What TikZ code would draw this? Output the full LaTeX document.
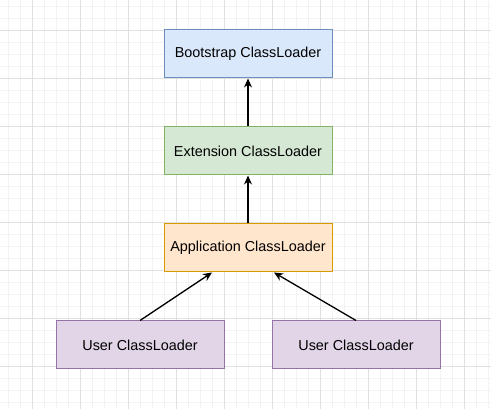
\documentclass[tikz,border=0pt]{standalone}
\usepackage{fontspec}
\setmainfont{Liberation Sans}
\usepackage{xcolor}
\usetikzlibrary{positioning,arrows.meta}

\definecolor{bluefill}{HTML}{DAE8FC}
\definecolor{bluedraw}{HTML}{6C8EBF}
\definecolor{greenfill}{HTML}{D5E8D4}
\definecolor{greendraw}{HTML}{82B366}
\definecolor{orangefill}{HTML}{FFE6CC}
\definecolor{orangedraw}{HTML}{D79B00}
\definecolor{purplefill}{HTML}{E1D5E7}
\definecolor{purpledraw}{HTML}{9673A6}
\definecolor{minorline}{HTML}{F3F3F3}
\definecolor{majorline}{HTML}{E0E0E0}

\begin{document}
\begin{tikzpicture}[
    x=1pt, y=-1pt,
    loader/.style={draw, rectangle, line width=1pt, minimum width=168pt, minimum height=48pt,
        inner sep=0pt, align=center, font=\fontsize{14.4}{17}\selectfont},
    link/.style={-{Stealth[length=9pt, width=8pt]}, line width=1.3pt}
]
    \useasboundingbox (0,0) rectangle (491,409);
    \fill[white] (0,0) rectangle (491,409);
    % background grid
    \foreach \x in {8,20,...,488} \draw[minorline, line width=0.8pt] (\x,0) -- (\x,409);
    \foreach \y in {6,18,...,408} \draw[minorline, line width=0.8pt] (0,\y) -- (491,\y);
    \foreach \x in {32,80,...,488} \draw[majorline, line width=0.8pt] (\x,0) -- (\x,409);
    \foreach \y in {30,78,...,408} \draw[majorline, line width=0.8pt] (0,\y) -- (491,\y);

    \node [loader, fill=bluefill, draw=bluedraw] (boot) at (248,54) {Bootstrap ClassLoader};
    \node [loader, below=48pt of boot, fill=greenfill, draw=greendraw] (ext) {Extension ClassLoader};
    \node [loader, below=48pt of ext, fill=orangefill, draw=orangedraw] (app) {Application ClassLoader};
    \node [loader, below=48pt of app, xshift=-108pt, fill=purplefill, draw=purpledraw] (userl) {User ClassLoader};
    \node [loader, below=48pt of app, xshift=108pt, fill=purplefill, draw=purpledraw] (userr) {User ClassLoader};

    \draw [link] (ext) -- (boot);
    \draw [link] (app) -- (ext);
    \draw [link] (userl.north) -- ([xshift=-36pt]app.south);
    \draw [link] (userr.north) -- ([xshift=26pt]app.south);
\end{tikzpicture}
\end{document}
